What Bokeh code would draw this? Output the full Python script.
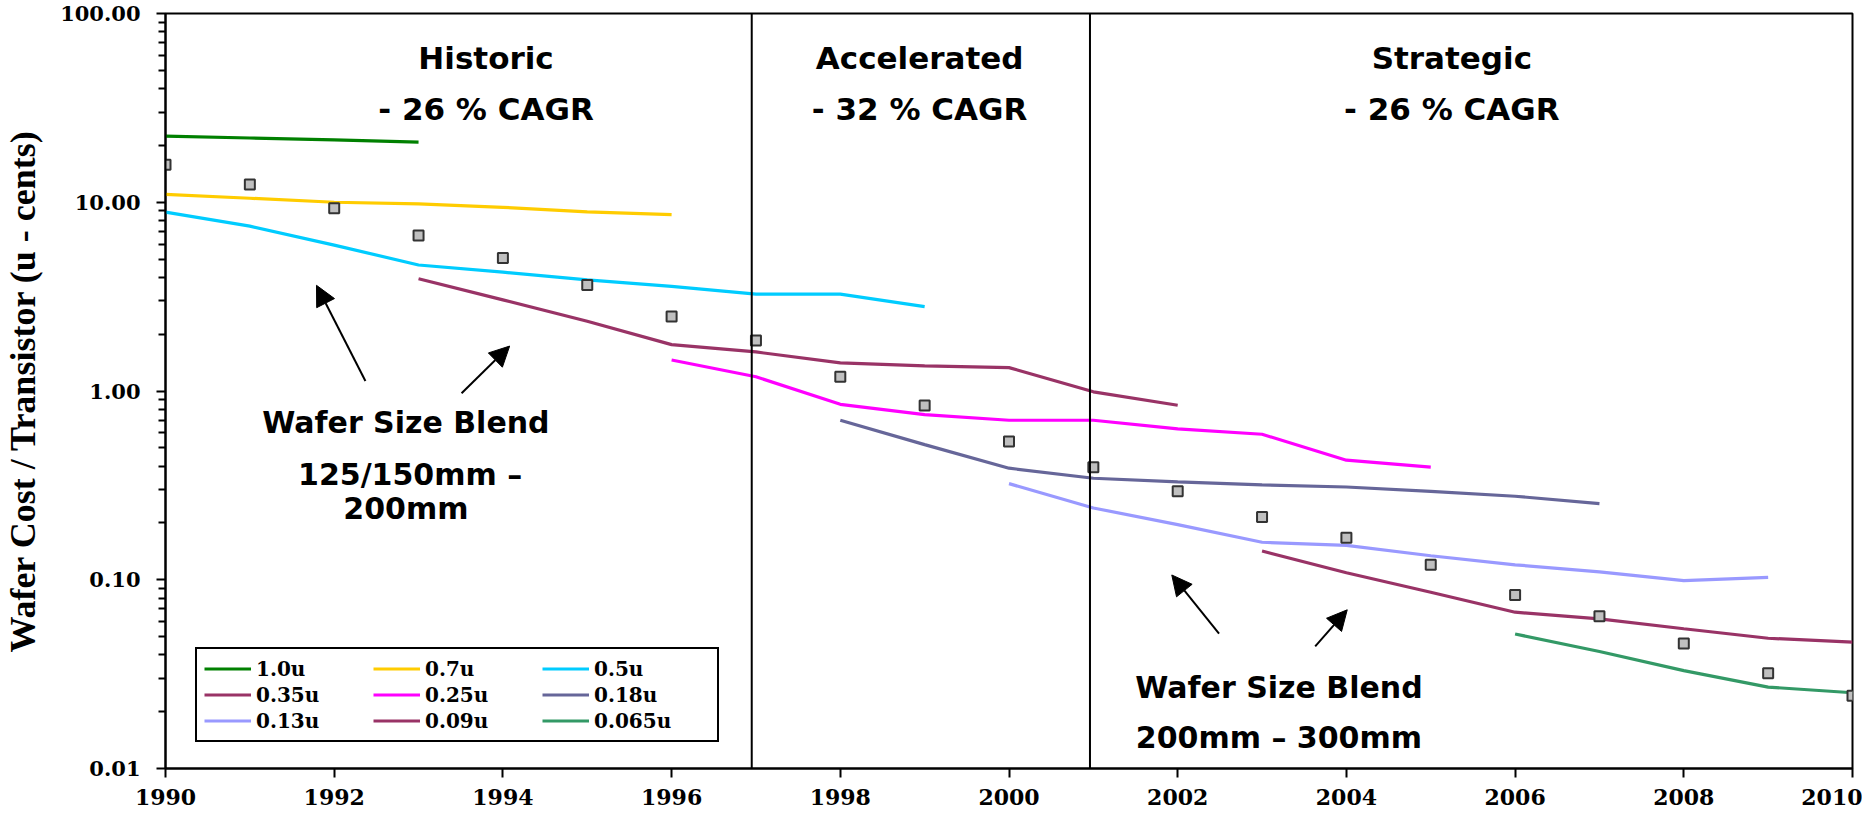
from bokeh.plotting import figure
from bokeh.models import (Legend, LegendItem, Label, Arrow, NormalHead, Span,
                          FixedTicker, CustomJSTickFormatter, Range1d)
from bokeh.embed import file_html
from bokeh.resources import INLINE

# ---------------- data ----------------
marker_years = list(range(1990, 2011))
blend_values = [15.8, 12.4, 9.3, 6.67, 5.07, 3.64, 2.48, 1.85, 1.19, 0.837, 0.54,
                0.395, 0.294, 0.215, 0.167, 0.12, 0.083, 0.064, 0.046, 0.032, 0.0243]

node_names = ["1.0u", "0.7u", "0.5u", "0.35u", "0.25u", "0.18u", "0.13u", "0.09u", "0.065u"]
node_colors = ["#008000", "#FFCC00", "#00CCFF", "#993366", "#FF00FF",
               "#666699", "#9999FF", "#993366", "#339966"]
node_start = [1990, 1990, 1990, 1993, 1996, 1998, 2000, 2003, 2006]
node_values = [
    [22.4, 21.9, 21.4, 20.8],
    [11.0, 10.5, 10.0, 9.8, 9.4, 8.9, 8.6],
    [8.86, 7.47, 5.93, 4.65, 4.26, 3.88, 3.58, 3.26, 3.26, 2.80],
    [3.93, 3.04, 2.34, 1.76, 1.61, 1.41, 1.36, 1.33, 0.99, 0.84],
    [1.46, 1.19, 0.85, 0.75, 0.70, 0.70, 0.63, 0.59, 0.43, 0.395],
    [0.70, 0.52, 0.39, 0.345, 0.33, 0.318, 0.31, 0.294, 0.277, 0.253],
    [0.323, 0.24, 0.196, 0.158, 0.152, 0.134, 0.12, 0.110, 0.099, 0.103],
    [0.142, 0.109, 0.0858, 0.0673, 0.062, 0.055, 0.049, 0.0467],
    [0.0516, 0.0417, 0.033, 0.027, 0.0252],
]

x_ticks = list(range(1990, 2011, 2))
y_ticks = [0.01, 0.1, 1, 10, 100]
y_minor = [m * 10.0 ** e for e in range(-2, 2) for m in range(2, 10)]

region_bounds = [1996.95, 2000.96]
region_titles = ["Historic", "Accelerated", "Strategic"]
region_rates = ["- 26 % CAGR", "- 32 % CAGR", "- 26 % CAGR"]
region_x = [1993.8, 1998.94, 2005.25]
title_y = 57.9
rate_y = 31.2

blend_texts_left = ["Wafer Size Blend", "125/150mm \u2013", "200mm"]
blend_left_x = [1992.85, 1992.9, 1992.85]
blend_left_y = [0.684, 0.360, 0.238]
blend_texts_right = ["Wafer Size Blend", "200mm \u2013 300mm"]
blend_right_x = [2003.2, 2003.2]
blend_right_y = [0.0270, 0.0146]

# arrows: (x_start, y_start, x_end, y_end)
arrows = [
    (1992.37, 1.13, 1991.79, 3.63),
    (1993.51, 0.973, 1994.08, 1.73),
    (2002.49, 0.0518, 2001.93, 0.106),
    (2003.63, 0.0444, 2004.01, 0.0693),
]

# ---------------- figure ----------------
p = figure(width=1862, height=815, y_axis_type="log",
           x_range=Range1d(1990, 2010), y_range=Range1d(0.01, 100),
           output_backend="svg", toolbar_location=None,
           min_border_left=163, min_border_right=10,
           min_border_top=13, min_border_bottom=47)
p.background_fill_color = "white"
p.border_fill_color = "white"
p.xgrid.visible = False
p.ygrid.visible = False
p.outline_line_color = "black"
p.outline_line_width = 2
p.outline_line_alpha = 1

p.xaxis.ticker = FixedTicker(ticks=x_ticks, minor_ticks=[])
p.xaxis.formatter = CustomJSTickFormatter(code="return tick.toFixed(0);")
p.yaxis.ticker = FixedTicker(ticks=y_ticks, minor_ticks=y_minor)
p.yaxis.formatter = CustomJSTickFormatter(code="return tick.toFixed(2);")

for ax in (p.xaxis[0], p.yaxis[0]):
    ax.axis_line_color = "black"
    ax.axis_line_width = 2
    ax.major_tick_in = 0
    ax.major_tick_out = 9
    ax.major_tick_line_width = 2
    ax.major_tick_line_color = "black"
    ax.minor_tick_in = 0
    ax.minor_tick_line_width = 2
    ax.minor_tick_line_color = "black"
    ax.major_label_text_font = "DejaVu Serif"
    ax.major_label_text_font_style = "bold"
    ax.major_label_text_color = "black"

xa = p.xaxis[0]
ya = p.yaxis[0]
xa.minor_tick_out = 0
xa.major_label_text_font_size = "22px"
xa.major_label_standoff = 11
ya.minor_tick_out = 7
ya.major_label_text_font_size = "21px"
ya.major_label_standoff = 16

ya.axis_label = "Wafer Cost / Transistor (u - cents)"
ya.axis_label_text_font = "Liberation Serif"
ya.axis_label_text_font_style = "bold"
ya.axis_label_text_font_size = "36px"
ya.axis_label_text_color = "black"
ya.axis_label_standoff = 14

# region separators
for b in region_bounds:
    p.add_layout(Span(location=b, dimension="height", line_color="black", line_width=2))

# node lines
items = []
for name, color, start, vals in zip(node_names, node_colors, node_start, node_values):
    xs = list(range(start, start + len(vals)))
    r = p.line(x=xs, y=vals, line_color=color, line_width=3.2)
    items.append(LegendItem(label=name, renderers=[r]))

# blended cost markers
p.scatter(x=marker_years, y=blend_values, marker="square", size=10,
          fill_color="#C0C0C0", line_color="#333333", line_width=2)

# region labels
for t, r, x in zip(region_titles, region_rates, region_x):
    for txt, y in ((t, title_y), (r, rate_y)):
        p.add_layout(Label(x=x, y=y, text=txt, text_align="center", text_baseline="middle",
                           text_font="DejaVu Sans", text_font_style="bold",
                           text_font_size="31px", text_color="black"))

for txt, x, y in list(zip(blend_texts_left, blend_left_x, blend_left_y)) + \
        list(zip(blend_texts_right, blend_right_x, blend_right_y)):
    p.add_layout(Label(x=x, y=y, text=txt, text_align="center", text_baseline="middle",
                       text_font="DejaVu Sans", text_font_style="bold",
                       text_font_size="30px", text_color="black"))

for xs, ys, xe, ye in arrows:
    p.add_layout(Arrow(end=NormalHead(size=20, fill_color="black", line_color="black", line_width=1),
                       x_start=xs, y_start=ys, x_end=xe, y_end=ye,
                       line_color="black", line_width=2))

legend = Legend(items=items, ncols=3, orientation="horizontal", location=(30, 26),
                label_text_font="DejaVu Serif", label_text_font_style="bold",
                label_text_font_size="20px", label_text_color="black",
                glyph_width=47, glyph_height=25, label_standoff=5,
                label_width=116, label_height=25, spacing=1, padding=7,
                border_line_color="black", border_line_width=2, border_line_alpha=1,
                background_fill_color="white", background_fill_alpha=1)
p.add_layout(legend)

open("out.html", "w").write(file_html(p, INLINE))
